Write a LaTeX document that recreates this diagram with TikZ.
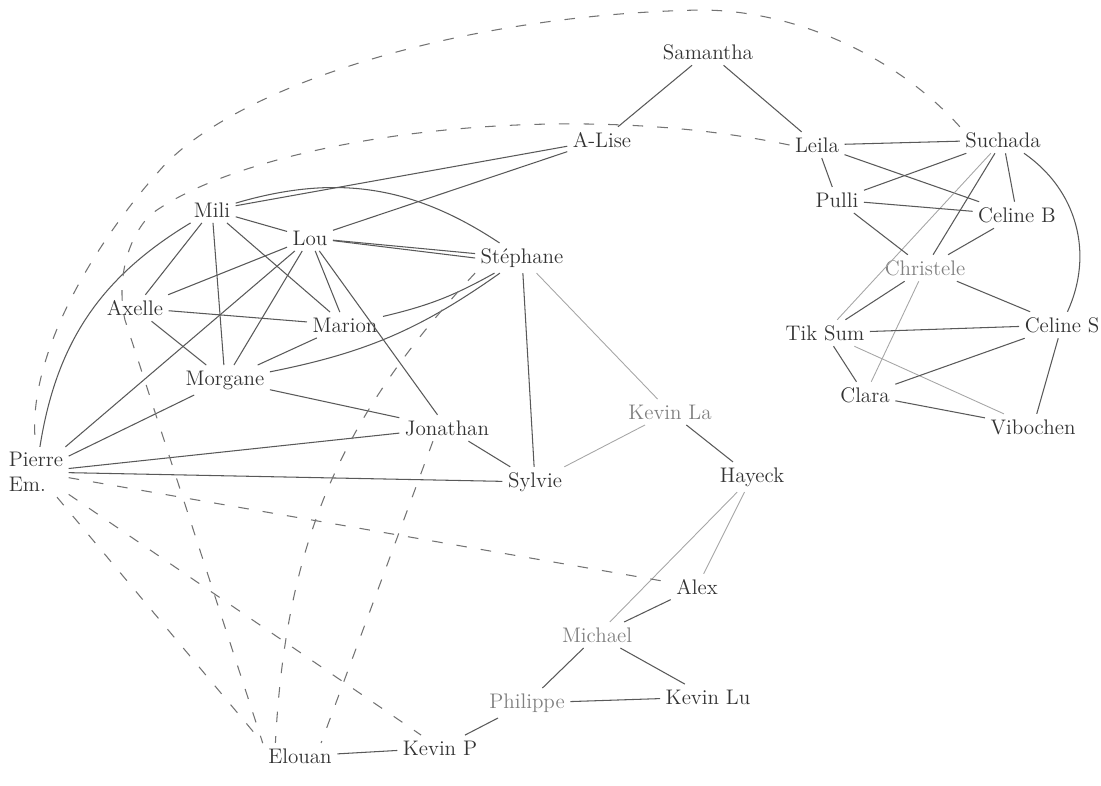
\documentclass[tikz,border=0pt]{standalone}
\usepackage{xcolor}
\usepackage{tikz}
\usetikzlibrary{calc}

\begin{document}
\begin{tikzpicture}[x=0.02cm,y=-0.02cm,
  person/.style={text=black!80,font=\large,inner sep=3pt},
  pale/.style={person,text=black!50},
  link/.style={draw=black!65,line width=0.6pt},
  faint/.style={draw=black!35,line width=0.5pt},
  maybe/.style={draw=black!55,line width=0.6pt,dash pattern=on 6pt off 8pt}]
\useasboundingbox (0,0) rectangle (1101,785);

\node[person] (samantha) at (708,52) {Samantha};
\node[person] (alise) at (602,140) {A-Lise};
\node[person] (leila) at (817,145) {Leila};
\node[person] (suchada) at (1003,140) {Suchada};
\node[person] (pulli) at (837,200) {Pulli};
\node[person] (celineb) at (1017,215) {Celine B};
\node[pale] (christele) at (925,268) {Christele};
\node[person] (tiksum) at (825,333) {Tik Sum};
\node[person] (celines) at (1062,325) {Celine S};
\node[person] (clara) at (865,395) {Clara};
\node[person] (vibochen) at (1033,427) {Vibochen};

\node[person] (mili) at (212,210) {Mili};
\node[person] (lou) at (310,238) {Lou};
\node[person] (stephane) at (522,258) {Stéphane};
\node[person] (axelle) at (135,308) {Axelle};
\node[person] (marion) at (345,325) {Marion};
\node[person] (morgane) at (225,380) {Morgane};
\node[person] (jonathan) at (447,428) {Jonathan};
\node[person,align=left] (pierre) at (36,472) {Pierre\\Em.};
\node[person] (sylvie) at (535,482) {Sylvie};
\node[pale] (kevinla) at (670,412) {Kevin La};
\node[person] (hayeck) at (752,477) {Hayeck};
\node[person] (alex) at (697,587) {Alex};
\node[pale] (michael) at (597,635) {Michael};
\node[pale] (philippe) at (527,703) {Philippe};
\node[person] (kevinlu) at (708,697) {Kevin Lu};
\node[person] (kevinp) at (440,748) {Kevin P};
\node[person] (elouan) at (300,756) {Elouan};

\draw[link] (samantha) -- (alise);
\draw[link] (samantha) -- (leila);
\draw[link] (leila) -- (suchada);
\draw[link] (leila) -- (pulli);
\draw[link] (leila) -- (celineb);
\draw[link] (suchada) -- (pulli);
\draw[link] (suchada) -- (celineb);
\draw[faint] (suchada) -- (tiksum);
\draw[link] (suchada) -- (christele);
\draw[link] (suchada) to[bend left=40] (celines);
\draw[link] (pulli) -- (celineb);
\draw[link] (pulli) -- (christele);
\draw[link] (celineb) -- (christele);
\draw[link] (christele) -- (tiksum);
\draw[faint] (christele) -- (clara);
\draw[link] (christele) -- (celines);
\draw[link] (tiksum) -- (celines);
\draw[link] (tiksum) -- (clara);
\draw[faint] (tiksum) -- (vibochen);
\draw[link] (clara) -- (celines);
\draw[link] (clara) -- (vibochen);
\draw[link] (celines) -- (vibochen);

\draw[link] (mili) -- (alise);
\draw[link] (lou) -- (alise);
\draw[link] (mili) to[bend left=25] (stephane);
\draw[link] (mili) -- (lou);
\draw[link] (mili) -- (axelle);
\draw[link] (mili) -- (morgane);
\draw[link] (mili) -- (marion);
\draw[link] (mili) to[bend right=25] (pierre);
\draw[link] (lou) -- (axelle);
\draw[link] (lou) -- (pierre);
\draw[link] (lou) -- (morgane);
\draw[link] (lou) -- (marion);
\draw[link] (lou) -- (jonathan);
\draw[link] (lou) -- (stephane);
\draw[link] ([yshift=-1.5pt]lou.east) -- (stephane.west);
\draw[link] (stephane) to[bend left=8] (marion);
\draw[link] (stephane) to[bend left=12] (morgane);
\draw[link] (stephane) -- (sylvie);
\draw[faint] (stephane) -- (kevinla);
\draw[link] (axelle) -- (marion);
\draw[link] (axelle) -- (morgane);
\draw[link] (marion) -- (morgane);
\draw[link] (morgane) -- (jonathan);
\draw[link] (morgane) -- (pierre);
\draw[link] (jonathan) -- (pierre);
\draw[link] (jonathan) -- (sylvie);
\draw[link] (sylvie) -- (pierre);
\draw[faint] (sylvie) -- (kevinla);
\draw[link] (kevinla) -- (hayeck);
\draw[faint] (hayeck) -- (michael);
\draw[faint] (hayeck) -- (alex);
\draw[link] (alex) -- (michael);
\draw[link] (michael) -- (philippe);
\draw[link] (michael) -- (kevinlu);
\draw[link] (philippe) -- (kevinlu);
\draw[link] (philippe) -- (kevinp);
\draw[link] (kevinp) -- (elouan);

\draw[maybe] (suchada.north west) .. controls (900,60) and (800,10) .. (700,10)
  .. controls (450,15) and (230,90) .. (160,170)
  .. controls (80,260) and (25,370) .. (pierre.north);
\draw[maybe] (leila.west) .. controls (550,95) and (250,140) .. (150,215)
  .. controls (122,245) and (118,290) .. (125,320) -- (elouan.north west);
\draw[maybe] (stephane.south west) to[bend right=20] ([xshift=-14pt]elouan.north);
\draw[maybe] ([xshift=-8pt]jonathan.south) -- ([xshift=12pt]elouan.north);
\draw[maybe] (pierre) -- (elouan.north west);
\draw[maybe] (pierre) -- (kevinp);
\draw[maybe] (pierre) -- (alex);
\end{tikzpicture}
\end{document}
